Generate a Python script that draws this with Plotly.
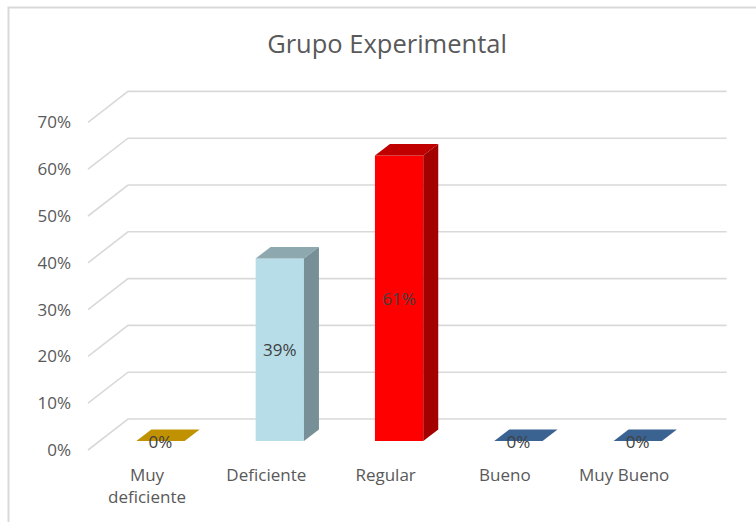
import plotly.graph_objects as go

# ---- data ----
categories = ["Muy deficiente", "Deficiente", "Regular", "Bueno", "Muy Bueno"]
tick_text_x = ["Muy<br>deficiente", "Deficiente", "Regular", "Bueno", "Muy Bueno"]
values = [0, 39, 61, 0, 0]
labels = ["0%", "39%", "61%", "0%", "0%"]
y_ticks = [0, 10, 20, 30, 40, 50, 60, 70]
y_tick_text = ["0%", "10%", "20%", "30%", "40%", "50%", "60%", "70%"]

front_colors = ["#C09100", "#B7DEE8", "#FF0000", "#3B6392", "#3B6392"]
side_colors = ["#8F6C00", "#778F96", "#A30000", "#2B4A6E", "#2B4A6E"]
top_colors = ["#C09100", "#8DA8AF", "#C00000", "#3B6392", "#3B6392"]

# ---- geometry (pseudo 3D) ----
W, H = 756, 522
L_M, B_M = 78, 64
PX_PER_CAT = 119.3
CAT0_PX = 147
PX_PER_PCT = 4.68
ZERO_PX = 450
x_range = [(L_M - CAT0_PX) / PX_PER_CAT, (W - CAT0_PX) / PX_PER_CAT]
y_range = [(ZERO_PX - (H - B_M)) / PX_PER_PCT, ZERO_PX / PX_PER_PCT]

front_shift = 13.5 / PX_PER_CAT
bar_w = 48.3 / PX_PER_CAT
base = 9 / PX_PER_PCT
ddx = 15 / PX_PER_CAT
ddy = 11.6 / PX_PER_PCT
wall_dx = 40 / PX_PER_CAT
wall_dy = 31 / PX_PER_PCT
grid_x_front = (88 - CAT0_PX) / PX_PER_CAT
grid_x_right = (726.6 - CAT0_PX) / PX_PER_CAT

fig = go.Figure()

centers = [i + front_shift for i in range(len(categories))]

fig.add_trace(go.Bar(
    x=centers, y=values, base=base, width=bar_w,
    marker=dict(color=front_colors, line=dict(width=0)),
    hoverinfo="skip", showlegend=False,
))

for c, v, sc, tc in zip(centers, values, side_colors, top_colors):
    xl, xr = c - bar_w / 2, c + bar_w / 2
    top = base + v
    # top face
    fig.add_trace(go.Scatter(
        x=[xl, xr, xr + ddx, xl + ddx, xl],
        y=[top, top, top + ddy, top + ddy, top],
        fill="toself", fillcolor=tc, mode="lines", line=dict(width=0, color=tc),
        hoverinfo="skip", showlegend=False))
    if v > 0:
        fig.add_trace(go.Scatter(
            x=[xr, xr + ddx, xr + ddx, xr, xr],
            y=[base, base + ddy, top + ddy, top, base],
            fill="toself", fillcolor=sc, mode="lines", line=dict(width=0, color=sc),
            hoverinfo="skip", showlegend=False))

fig.add_trace(go.Scatter(
    x=centers, y=[base + v / 2 - 0.5 for v in values], text=labels, mode="text",
    textposition="middle center",
    textfont=dict(family="Open Sans", size=17, color="#404040"),
    hoverinfo="skip", showlegend=False))

shapes = []
for t in y_ticks:
    path = "M {} {} L {} {} L {} {}".format(
        grid_x_front, t, grid_x_front + wall_dx, t + wall_dy, grid_x_right, t + wall_dy)
    shapes.append(dict(type="path", path=path, xref="x", yref="y", layer="below",
                       line=dict(color="#D9D9D9", width=1.6)))
shapes.append(dict(type="rect", xref="paper", yref="paper",
                   x0=(8.5 - L_M) / (W - L_M), x1=1.2,
                   y0=-0.3, y1=1 - 7.5 / (H - B_M),
                   line=dict(color="#D9D9D9", width=2), fillcolor="rgba(0,0,0,0)", layer="below"))

fig.update_layout(
    width=W, height=H,
    margin=dict(l=L_M, r=0, t=0, b=B_M),
    paper_bgcolor="white", plot_bgcolor="white",
    shapes=shapes,
    title=dict(text="Grupo Experimental", x=387 / W, xanchor="center",
               y=1 - 44 / H, yanchor="middle", yref="container",
               font=dict(family="Open Sans", size=25.5, color="#595959")),
    xaxis=dict(range=x_range, tickvals=list(range(len(categories))), ticktext=tick_text_x,
               showgrid=False, zeroline=False, showline=False, ticks="",
               ticklabelstandoff=5,
               tickfont=dict(family="Open Sans", size=17, color="#595959"), fixedrange=True),
    yaxis=dict(range=y_range, tickvals=y_ticks, ticktext=y_tick_text,
               showgrid=False, zeroline=False, showline=False, ticks="",
               ticklabelstandoff=6,
               tickfont=dict(family="Open Sans", size=17, color="#595959"), fixedrange=True),
    font=dict(family="Open Sans", color="#595959"),
)

fig.write_html("out.html")
